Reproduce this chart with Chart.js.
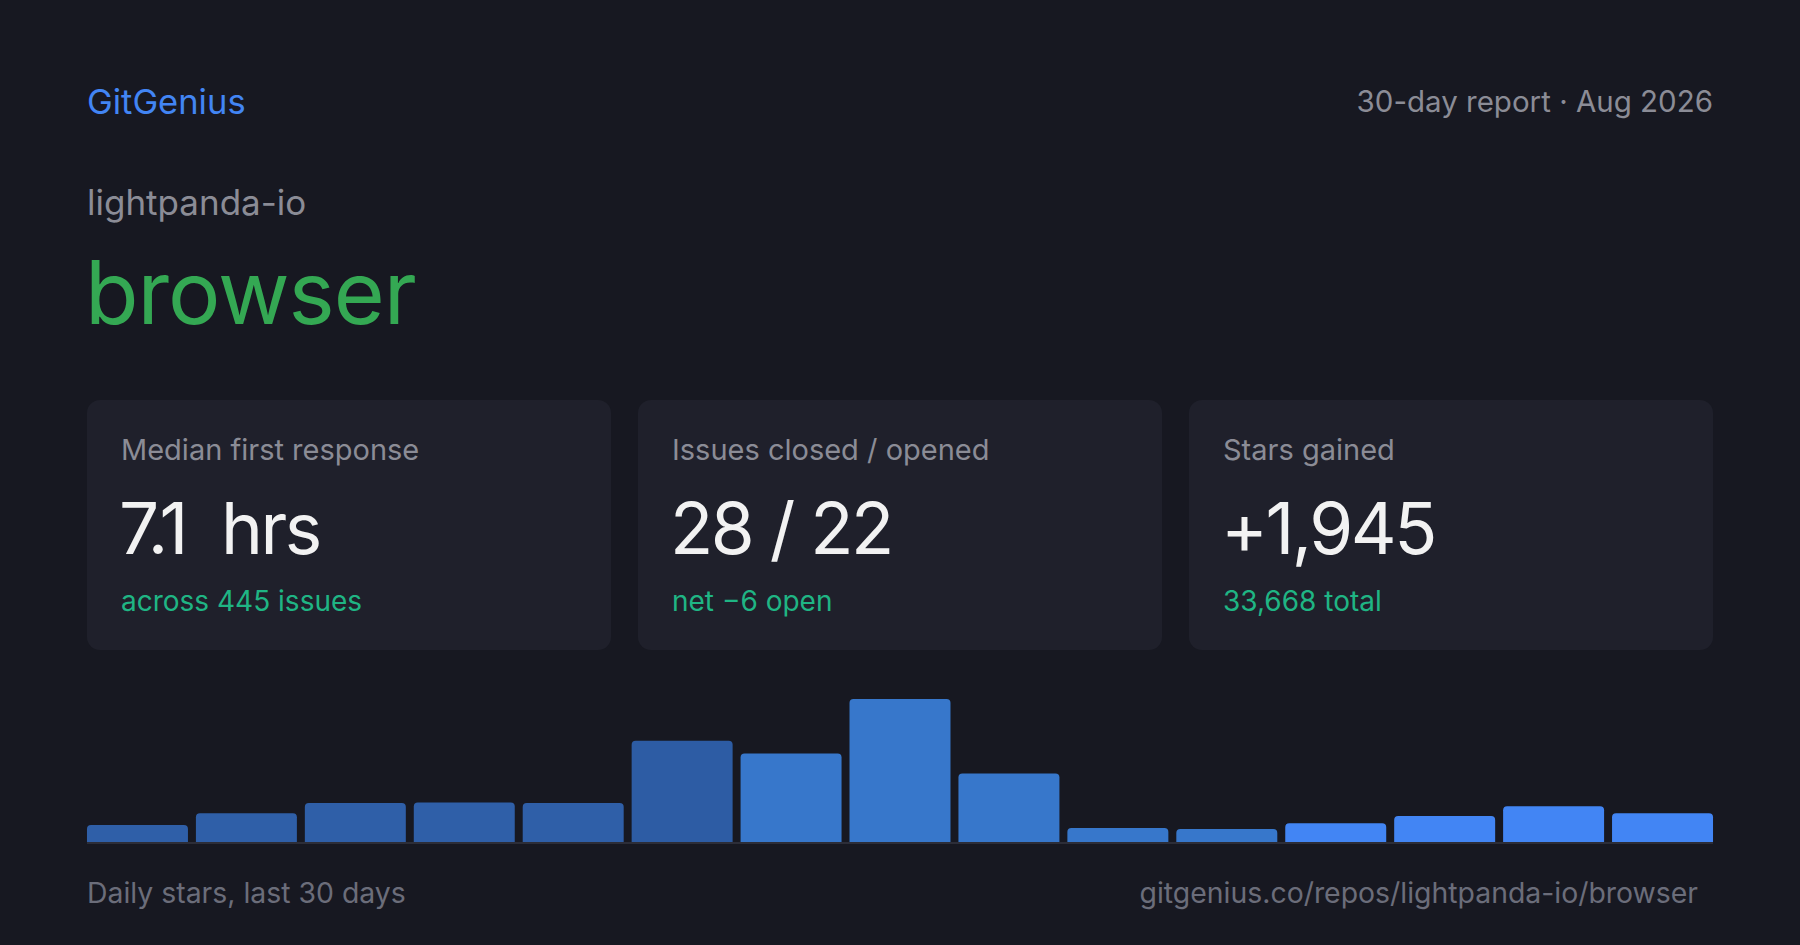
<!DOCTYPE html>
<html>
<head>
<meta charset="utf-8">
<script src="https://cdn.jsdelivr.net/npm/chart.js@4"></script>
<style>
  html, body { margin: 0; padding: 0; }
  body { width: 1800px; height: 945px; background: #171821; font-family: Inter, "Noto Sans", sans-serif; position: relative; overflow: hidden; }
  .abs { position: absolute; white-space: nowrap; }
  .brand { left: 87px; top: 81px; font-size: 34.5px; color: #4285f4; }
  .period { right: 87px; top: 83px; font-size: 29.5px; color: #8b8c96; }
  .owner { left: 87px; top: 181px; font-size: 35px; color: #8b8c96; }
  .repo { left: 85px; top: 239px; font-size: 87.5px; color: #34a853; letter-spacing: -1px; }
  .card { position: absolute; top: 400px; width: 524px; height: 250px; background: #1f202b; border-radius: 13px; }
  .card .lbl { position: absolute; left: 34px; top: 32px; font-size: 29px; color: #8b8c96; }
  .card .val { position: absolute; left: 32px; top: 85px; font-size: 71px; color: #f2f2f2; letter-spacing: -2.5px; }
  .card .sub { position: absolute; left: 34px; top: 184px; font-size: 28px; color: #1fb584; }
  .foot-l { left: 87px; top: 875px; font-size: 28.4px; color: #6b6d7a; }
  .foot-r { right: 102px; top: 875px; font-size: 28.4px; color: #6b6d7a; }
  #chartWrap { position: absolute; left: 83px; top: 699px; width: 1634px; height: 146px; }
</style>
</head>
<body>
<div class="abs brand">GitGenius</div>
<div class="abs period">30-day report · Aug 2026</div>
<div class="abs owner">lightpanda-io</div>
<div class="abs repo">browser</div>

<div id="cards"></div>

<div id="chartWrap"><canvas id="starsChart"></canvas></div>

<div class="abs foot-l">Daily stars, last 30 days</div>
<div class="abs foot-r">gitgenius.co/repos/lightpanda-io/browser</div>

<script>
// Stat cards
const cardLabels = ['Median first response', 'Issues closed / opened', 'Stars gained'];
const cardValues = ['7.1&nbsp;&nbsp;hrs', '28 / 22', '+1,945'];
const cardNotes  = ['across 445 issues', 'net −6 open', '33,668 total'];

// Daily stars chart
const dayLabels  = ['1', '2', '3', '4', '5', '6', '7', '8', '9', '10', '11', '12', '13', '14', '15'];
const starCounts = [47, 80, 108, 110, 108, 281, 246, 397, 190, 39, 36, 52, 72, 99, 80];
const barColors  = ['#2f5fa8', '#2f5fa8', '#2f5fa8', '#2f5fa8', '#2f5fa8', '#2d5ca4',
                    '#3777cb', '#3777cb', '#3777cb', '#3777cb', '#3777cb',
                    '#4285f4', '#4285f4', '#4285f4', '#4285f4'];

function renderCards() {
  const wrap = document.getElementById('cards');
  const lefts = [87, 638, 1189];
  wrap.innerHTML = cardLabels.map((l, i) => `
    <div class="card" style="left:${lefts[i]}px">
      <div class="lbl">${l}</div>
      <div class="val">${cardValues[i]}</div>
      <div class="sub">${cardNotes[i]}</div>
    </div>`).join('');
}

// thin rule under the bars, from first bar edge to last bar edge
const baseline = {
  id: 'baseline',
  beforeDatasetsDraw(chart) {
    const bars = chart.getDatasetMeta(0).data;
    if (!bars.length) return;
    const first = bars[0], last = bars[bars.length - 1];
    const x0 = first.x - first.width / 2, x1 = last.x + last.width / 2;
    const c = chart.ctx;
    c.save();
    c.fillStyle = '#2c2d38';
    c.fillRect(x0, chart.chartArea.bottom, x1 - x0, 2);
    c.restore();
  }
};

function renderStarsChart() {
  const ctx = document.getElementById('starsChart');
  new Chart(ctx, {
    type: 'bar',
    data: {
      labels: dayLabels,
      datasets: [{
        data: starCounts,
        backgroundColor: barColors,
        borderRadius: { topLeft: 4, topRight: 4, bottomLeft: 0, bottomRight: 0 },
        borderSkipped: 'bottom',
        categoryPercentage: 1,
        barPercentage: 0.927
      }]
    },
    options: {
      responsive: true, maintainAspectRatio: false, animation: false,
      layout: { padding: { top: 0, bottom: 3, left: 0, right: 0 } },
      plugins: { legend: { display: false }, tooltip: { enabled: false } },
      scales: {
        x: { display: false },
        y: { display: false, min: 0, max: 397 }
      }
    },
    plugins: [baseline]
  });
}

renderCards();
renderStarsChart();
</script>
</body>
</html>
